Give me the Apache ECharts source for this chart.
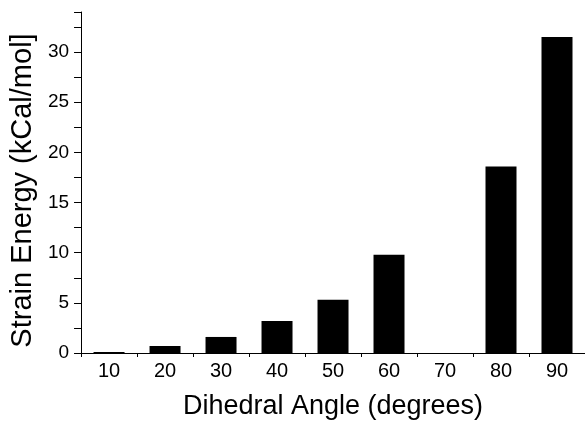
<!DOCTYPE html>
<html>
<head>
<meta charset="utf-8">
<script src="https://cdn.jsdelivr.net/npm/echarts@6/dist/echarts.min.js"></script>
<style>
  html, body { margin: 0; padding: 0; background: #fff; }
  #chart { width: 585px; height: 426px; }
</style>
</head>
<body>
<div id="chart"></div>
<script>
// 数据
let angles = ['10', '20', '30', '40', '50', '60', '70', '80', '90'];
let strain = [0.1, 0.7, 1.6, 3.2, 5.3, 9.8, 0, 18.6, 31.5];

let font = 'Liberation Sans, Arial, Helvetica, sans-serif';

let chart = echarts.init(document.getElementById('chart'));
chart.setOption({
    backgroundColor: '#fff',
    animation: false,
    grid: { left: 78, top: 12, width: 519, bottom: 73 },
    xAxis: {
        type: 'category',
        data: angles,
        boundaryGap: true,
        name: 'Dihedral Angle (degrees)',
        nameLocation: 'middle',
        nameGap: 40,
        nameTextStyle: { color: '#000', fontSize: 27, fontFamily: font },
        axisLine: { lineStyle: { color: '#000', width: 1 } },
        axisTick: { show: true, length: 4, inside: false, lineStyle: { color: '#000' } },
        axisLabel: { color: '#000', fontSize: 20, fontFamily: font, margin: 8 },
        splitLine: { show: false }
    },
    yAxis: {
        type: 'value',
        min: 0,
        max: 34,
        interval: 2.5,
        name: 'Strain Energy (kCal/mol]',
        nameLocation: 'middle',
        nameGap: 41,
        nameTextStyle: { color: '#000', fontSize: 29, fontFamily: font, padding: [0, 16, 0, 0] },
        axisLine: { show: true, lineStyle: { color: '#000', width: 1 } },
        axisTick: { show: true, length: 7, lineStyle: { color: '#000' } },
        axisLabel: {
            color: '#000', fontSize: 19, fontFamily: font, margin: 12,
            formatter: function (v) { return v % 5 === 0 ? String(v) : ''; }
        },
        splitLine: { show: false }
    },
    series: [{
        type: 'bar',
        data: strain,
        barWidth: 31,
        itemStyle: { color: '#000' }
    }]
});
</script>
</body>
</html>
